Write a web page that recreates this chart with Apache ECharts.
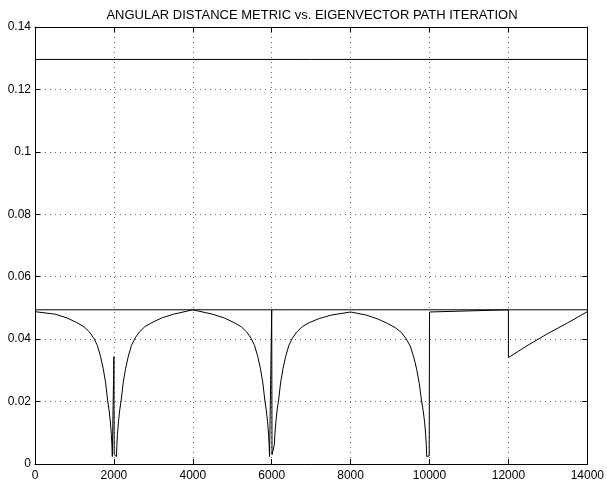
<!DOCTYPE html>
<html>
<head>
<meta charset="utf-8">
<script src="https://cdn.jsdelivr.net/npm/echarts@6/dist/echarts.min.js"></script>
<style>
    html, body {margin: 0; padding: 0; background: #fff;}
    #chartBox {width: 607px; height: 486px;}
</style>
</head>
<body>
<div id="chartBox"></div>
<script>
// values
var titleText = 'ANGULAR DISTANCE METRIC vs. EIGENVECTOR PATH ITERATION';
var xTicks = [0, 2000, 4000, 6000, 8000, 10000, 12000, 14000];
var yTicks = [0, 0.02, 0.04, 0.06, 0.08, 0.1, 0.12, 0.14];
var upperLevel = 0.1296;
var lowerLevel = 0.0494;
// [iteration, metric]
var metricCurve = [
    [0, 0.0488], [510, 0.0480], [810, 0.0468], [1060, 0.0453], [1240, 0.0440],
    [1380, 0.0423], [1490, 0.0403], [1580, 0.0380], [1660, 0.0345], [1730, 0.0305],
    [1790, 0.0260], [1840, 0.0205], [1880, 0.0170], [1910, 0.0135], [1935, 0.0095],
    [1950, 0.0060], [1960, 0.0024],
    [1992, 0.0030], [2000, 0.0344], [2008, 0.0030], [2065, 0.0024],
    [2075, 0.0060], [2090, 0.0095], [2115, 0.0135], [2145, 0.0170], [2185, 0.0205],
    [2235, 0.0260], [2295, 0.0305], [2365, 0.0345], [2445, 0.0380], [2535, 0.0403],
    [2645, 0.0423], [2785, 0.0440], [2965, 0.0453], [3215, 0.0468], [3515, 0.0480],
    [4000, 0.0494],
    [4495, 0.0480], [4795, 0.0468], [5045, 0.0453], [5225, 0.0440], [5365, 0.0423],
    [5475, 0.0403], [5565, 0.0380], [5645, 0.0345], [5715, 0.0305], [5775, 0.0260],
    [5825, 0.0205], [5865, 0.0170], [5895, 0.0135], [5920, 0.0095], [5935, 0.0060],
    [5945, 0.0024],
    [5992, 0.0030], [6000, 0.0494], [6008, 0.0030], [6055, 0.0024],
    [6065, 0.0060], [6080, 0.0095], [6105, 0.0135], [6135, 0.0170], [6175, 0.0205],
    [6225, 0.0260], [6285, 0.0305], [6355, 0.0345], [6435, 0.0380], [6525, 0.0403],
    [6635, 0.0423], [6775, 0.0440], [6955, 0.0453], [7205, 0.0466], [7505, 0.0477],
    [8000, 0.0487],
    [8400, 0.0477], [8700, 0.0464], [8940, 0.0450], [9130, 0.0437], [9290, 0.0421],
    [9410, 0.0401], [9510, 0.0378], [9600, 0.0343], [9675, 0.0303], [9740, 0.0258],
    [9795, 0.0205], [9840, 0.0170], [9875, 0.0135], [9902, 0.0095], [9919, 0.0060],
    [9930, 0.0024],
    [9992, 0.0026], [10000, 0.0487], [12000, 0.0494], [12000, 0.0341],
    [12500, 0.0381], [13000, 0.0418], [13500, 0.0452], [14000, 0.0488]
];

var myChart1 = echarts.init(document.getElementById('chartBox'));
var fontName = 'Liberation Sans';
var gridLine = {show: true, lineStyle: {color: '#666', type: [1, 4], width: 1}};
var boxLine = {show: true, onZero: false, lineStyle: {color: '#000', width: 1}};
var tickIn = {show: true, inside: true, length: 5, lineStyle: {color: '#000'}};

function xFmt(v) {
    return String(v);
}
function yFmt(v) {
    return String(parseFloat(v.toFixed(2)));
}

var option = {
    animation: false,
    title: {
        text: titleText,
        left: 307,
        top: 4,
        textAlign: 'center',
        textStyle: {fontFamily: fontName, fontSize: 13, fontWeight: 'normal', color: '#000'}
    },
    grid: {left: 35, right: 17, top: 27, bottom: 22},
    xAxis: [
        {
            type: 'value',
            min: xTicks[0],
            max: xTicks[xTicks.length - 1],
            interval: 2000,
            axisLine: boxLine,
            axisTick: tickIn,
            axisLabel: {fontFamily: fontName, fontSize: 12, color: '#000', margin: 6, formatter: xFmt},
            splitLine: gridLine
        },
        {
            type: 'value',
            position: 'top',
            min: xTicks[0],
            max: xTicks[xTicks.length - 1],
            interval: 2000,
            axisLine: boxLine,
            axisTick: tickIn,
            axisLabel: {show: false},
            splitLine: {show: false}
        }
    ],
    yAxis: [
        {
            type: 'value',
            min: yTicks[0],
            max: yTicks[yTicks.length - 1],
            interval: 0.02,
            axisLine: boxLine,
            axisTick: tickIn,
            axisLabel: {fontFamily: fontName, fontSize: 12, color: '#000', margin: 4, formatter: yFmt},
            splitLine: gridLine
        },
        {
            type: 'value',
            position: 'right',
            min: yTicks[0],
            max: yTicks[yTicks.length - 1],
            interval: 0.02,
            axisLine: boxLine,
            axisTick: tickIn,
            axisLabel: {show: false},
            splitLine: {show: false}
        }
    ],
    series: [
        {
            type: 'line',
            showSymbol: false,
            data: [[xTicks[0], upperLevel], [xTicks[xTicks.length - 1], upperLevel]],
            lineStyle: {color: '#000', width: 1}
        },
        {
            type: 'line',
            showSymbol: false,
            data: [[xTicks[0], lowerLevel], [xTicks[xTicks.length - 1], lowerLevel]],
            lineStyle: {color: '#000', width: 1}
        },
        {
            type: 'line',
            showSymbol: false,
            data: metricCurve,
            lineStyle: {color: '#000', width: 1}
        }
    ]
};
myChart1.setOption(option);
</script>
</body>
</html>
